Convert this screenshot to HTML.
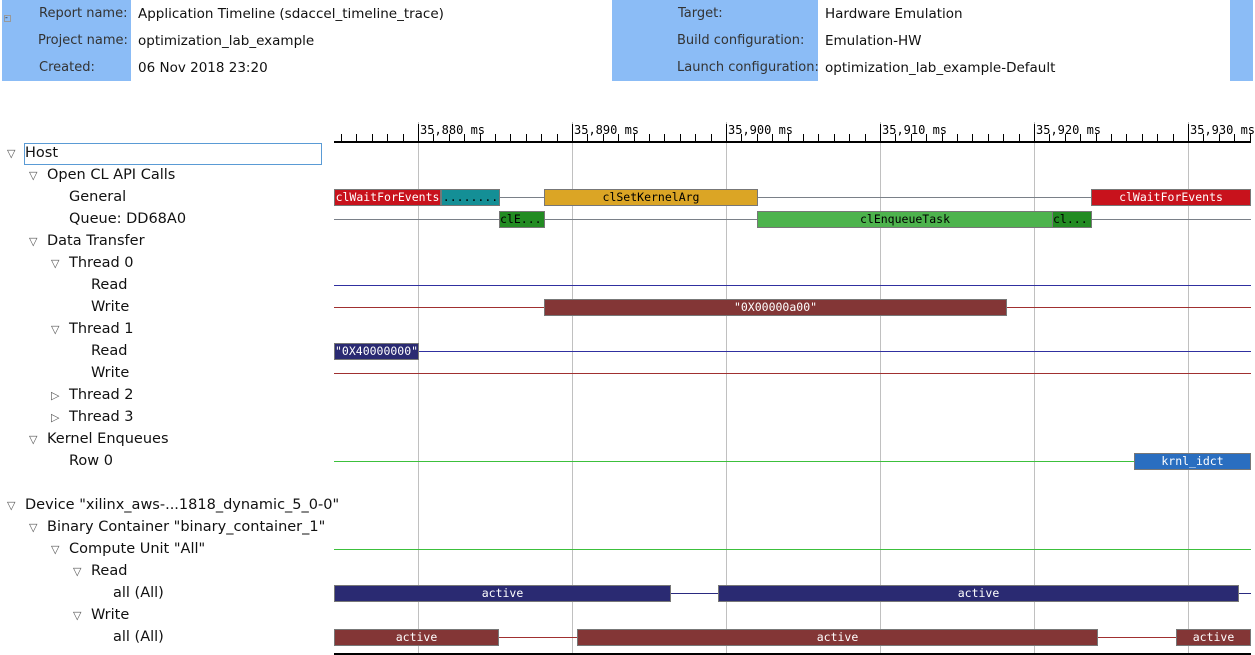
<!DOCTYPE html>
<html><head><style>
body{margin:0;width:1255px;height:655px;background:#fff;position:relative;overflow:hidden;font-family:"DejaVu Sans","Liberation Sans",sans-serif;font-size:14px;color:#222}
.a{position:absolute}
.blue{position:absolute;background:#8bbcf6}
.lab{position:absolute;font-size:13px;color:#333;white-space:nowrap}
.val{position:absolute;font-size:13.5px;color:#111;white-space:nowrap}
.t{position:absolute;font-size:14.5px;color:#111;white-space:nowrap}
.tri{position:absolute;font-size:11px;color:#555}
.hl{position:absolute;height:1px}
.bar{position:absolute;height:17px;border:1px solid #777;box-sizing:border-box;font-family:"DejaVu Sans Mono","Liberation Mono",monospace;font-size:11.5px;line-height:15px;text-align:center;overflow:hidden;white-space:nowrap;color:#fff}
.vg{position:absolute;top:122px;width:1px;height:533px;background:#c0c0c0}
.tk{position:absolute;width:1px;background:#000}
.tl{position:absolute;top:123px;font-family:"DejaVu Sans Mono","Liberation Mono",monospace;font-size:12px;color:#000;white-space:nowrap}
</style></head><body>
<div class="blue" style="left:2px;top:0;width:129px;height:81px"></div>
<div class="blue" style="left:612px;top:0;width:206px;height:81px"></div>
<div class="blue" style="left:1230px;top:0;width:23px;height:81px"></div>
<div class="a" style="left:4px;top:15px;width:5px;height:5px;border:1px solid #999;font-size:8px;line-height:4px">-</div>
<div class="lab" style="left:39px;top:6px">Report name:</div>
<div class="lab" style="left:38px;top:33px">Project name:</div>
<div class="lab" style="left:39px;top:60px">Created:</div>
<div class="val" style="left:138px;top:6px">Application Timeline (sdaccel_timeline_trace)</div>
<div class="val" style="left:138px;top:33px">optimization_lab_example</div>
<div class="val" style="left:138px;top:60px">06 Nov 2018 23:20</div>
<div class="lab" style="left:678px;top:6px">Target:</div>
<div class="lab" style="left:677px;top:33px">Build configuration:</div>
<div class="lab" style="left:677px;top:60px">Launch configuration:</div>
<div class="val" style="left:825px;top:6px">Hardware Emulation</div>
<div class="val" style="left:825px;top:33px">Emulation-HW</div>
<div class="val" style="left:825px;top:60px">optimization_lab_example-Default</div>

<div class="vg" style="left:418px"></div><div class="vg" style="left:572px"></div><div class="vg" style="left:726px"></div><div class="vg" style="left:880px"></div><div class="vg" style="left:1034px"></div><div class="vg" style="left:1188px"></div>
<div class="a" style="left:334px;top:141px;width:917px;height:2px;background:#000"></div>
<div class="a" style="left:334px;top:653px;width:917px;height:2px;background:#000"></div>
<div id="ticks"></div>
<div class="tl" style="left:420px">35,880 ms</div><div class="tl" style="left:574px">35,890 ms</div><div class="tl" style="left:728px">35,900 ms</div><div class="tl" style="left:882px">35,910 ms</div><div class="tl" style="left:1036px">35,920 ms</div><div class="tl" style="left:1190px">35,930 ms</div>

<div class="a" style="left:24px;top:143px;width:296px;height:20px;border:1px solid #5a9bd5"></div>
<div class="tri" style="left:7px;top:147px">▽</div><div class="t" style="left:25px;top:145px">Host</div>
<div class="tri" style="left:29px;top:169px">▽</div><div class="t" style="left:47px;top:167px">Open CL API Calls</div>
<div class="t" style="left:69px;top:189px">General</div>
<div class="t" style="left:69px;top:211px">Queue: DD68A0</div>
<div class="tri" style="left:29px;top:235px">▽</div><div class="t" style="left:47px;top:233px">Data Transfer</div>
<div class="tri" style="left:51px;top:257px">▽</div><div class="t" style="left:69px;top:255px">Thread 0</div>
<div class="t" style="left:91px;top:277px">Read</div>
<div class="t" style="left:91px;top:299px">Write</div>
<div class="tri" style="left:51px;top:323px">▽</div><div class="t" style="left:69px;top:321px">Thread 1</div>
<div class="t" style="left:91px;top:343px">Read</div>
<div class="t" style="left:91px;top:365px">Write</div>
<div class="tri" style="left:51px;top:389px">▷</div><div class="t" style="left:69px;top:387px">Thread 2</div>
<div class="tri" style="left:51px;top:411px">▷</div><div class="t" style="left:69px;top:409px">Thread 3</div>
<div class="tri" style="left:29px;top:433px">▽</div><div class="t" style="left:47px;top:431px">Kernel Enqueues</div>
<div class="t" style="left:69px;top:453px">Row 0</div>
<div class="tri" style="left:7px;top:499px">▽</div><div class="t" style="left:25px;top:497px">Device "xilinx_aws-...1818_dynamic_5_0-0"</div>
<div class="tri" style="left:29px;top:521px">▽</div><div class="t" style="left:47px;top:519px">Binary Container "binary_container_1"</div>
<div class="tri" style="left:51px;top:543px">▽</div><div class="t" style="left:69px;top:541px">Compute Unit "All"</div>
<div class="tri" style="left:73px;top:565px">▽</div><div class="t" style="left:91px;top:563px">Read</div>
<div class="t" style="left:113px;top:585px">all (All)</div>
<div class="tri" style="left:73px;top:609px">▽</div><div class="t" style="left:91px;top:607px">Write</div>
<div class="t" style="left:113px;top:629px">all (All)</div>

<div class="hl" style="left:334px;width:917px;top:197px;background:#7a8088"></div>
<div class="hl" style="left:334px;width:917px;top:219px;background:#7a8088"></div>
<div class="hl" style="left:334px;width:917px;top:285px;background:#3030a0"></div>
<div class="hl" style="left:334px;width:917px;top:307px;background:#a03030"></div>
<div class="hl" style="left:334px;width:917px;top:351px;background:#3030a0"></div>
<div class="hl" style="left:334px;width:917px;top:373px;background:#a03030"></div>
<div class="hl" style="left:334px;width:917px;top:461px;background:#3cc03c"></div>
<div class="hl" style="left:334px;width:917px;top:549px;background:#3cc03c"></div>
<div class="hl" style="left:334px;width:917px;top:593px;background:#2a2a80"></div>
<div class="hl" style="left:334px;width:917px;top:637px;background:#a03030"></div>

<div class="bar" style="left:334px;width:107px;top:189px;background:#c8121c">clWaitForEvents</div>
<div class="bar" style="left:441px;width:59px;top:189px;background:#148f96;color:#000">........</div>
<div class="bar" style="left:544px;width:214px;top:189px;background:#dba525;color:#000">clSetKernelArg</div>
<div class="bar" style="left:1091px;width:160px;top:189px;background:#c8121c">clWaitForEvents</div>
<div class="bar" style="left:499px;width:46px;top:211px;background:#228b22;color:#000;text-align:left">clE...</div>
<div class="bar" style="left:757px;width:296px;top:211px;background:#4db34d;color:#000">clEnqueueTask</div>
<div class="bar" style="left:1052px;width:40px;top:211px;background:#228b22;color:#000;text-align:left">cl...</div>
<div class="bar" style="left:544px;width:463px;top:299px;background:#833636">"0X00000a00"</div>
<div class="bar" style="left:334px;width:85px;top:343px;background:#2a2a72">"0X40000000"</div>
<div class="bar" style="left:1134px;width:117px;top:453px;background:#2a6ec0">krnl_idct</div>
<div class="bar" style="left:334px;width:337px;top:585px;background:#2a2a72">active</div>
<div class="bar" style="left:718px;width:521px;top:585px;background:#2a2a72">active</div>
<div class="bar" style="left:334px;width:165px;top:629px;background:#833636">active</div>
<div class="bar" style="left:577px;width:521px;top:629px;background:#833636">active</div>
<div class="bar" style="left:1176px;width:75px;top:629px;background:#833636">active</div>
<script>
var h='';for(var i=0;i<60;i++){var x=Math.round(418+15.4*(i-5));if(x<334||x>1251)continue;var maj=((i-5)%10===0);h+='<div class="tk" style="left:'+x+'px;top:'+(maj?124:134)+'px;height:'+(maj?18:8)+'px"></div>';}
document.getElementById('ticks').innerHTML=h;
</script>
</body></html>
